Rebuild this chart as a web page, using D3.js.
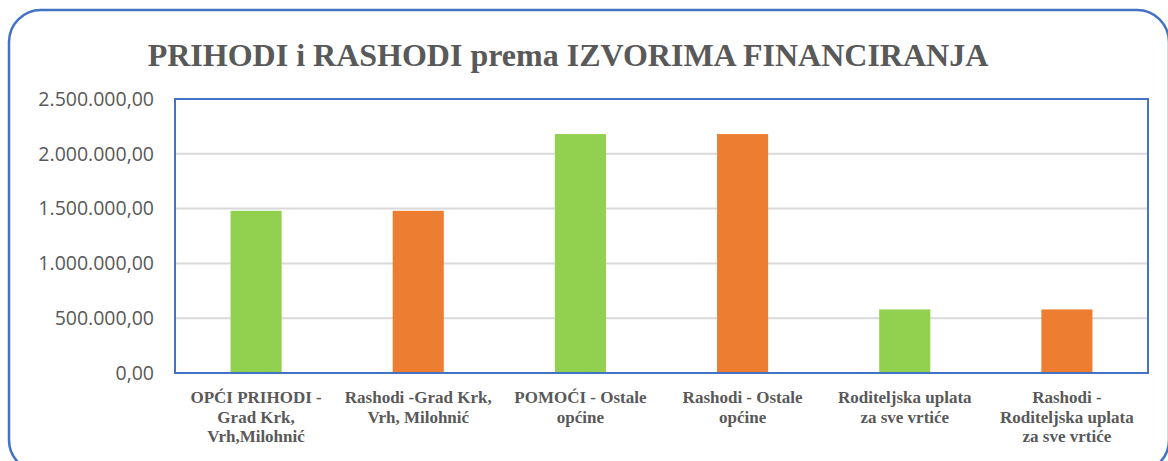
<!DOCTYPE html>
<html>
<head>
<meta charset="utf-8">
<script src="https://cdn.jsdelivr.net/npm/d3@7"></script>
<style>
  body { margin: 0; background: #fff; }
  svg { display: block; }
</style>
</head>
<body>
<div id="chart-area"></div>
<script>
let categories = [
    ["OPĆI PRIHODI -", "Grad Krk,", "Vrh,Milohnić"],
    ["Rashodi -Grad Krk,", "Vrh, Milohnić"],
    ["POMOĆI - Ostale", "općine"],
    ["Rashodi - Ostale", "općine"],
    ["Roditeljska uplata", "za sve vrtiće"],
    ["Rashodi -", "Roditeljska uplata", "za sve vrtiće"]
]
let values = [1480000, 1480000, 2180000, 2180000, 580000, 580000]
let kinds = ["prihod", "rashod", "prihod", "rashod", "prihod", "rashod"]
let ticks = [0, 500000, 1000000, 1500000, 2000000, 2500000]
let tickLabels = ["0,00", "500.000,00", "1.000.000,00", "1.500.000,00", "2.000.000,00", "2.500.000,00"]

let width = 1168
let height = 461

let svg = d3.select("#chart-area")
            .append('svg')
            .attr('width', width)
            .attr('height', height)

// outer rounded frame
svg.append('rect')
    .attr('x', 9)
    .attr('y', 10)
    .attr('width', 1160)
    .attr('height', 462)
    .attr('rx', 32)
    .attr('fill', 'white')
    .attr('stroke', '#4472C4')
    .attr('stroke-width', 2.5)

svg.append('text')
    .attr('x', 568)
    .attr('y', 66)
    .attr('text-anchor', 'middle')
    .attr('font-family', '"Liberation Serif", "Times New Roman", serif')
    .attr('font-weight', 'bold')
    .attr('font-size', 32)
    .attr('fill', '#595959')
    .text('PRIHODI i RASHODI prema IZVORIMA FINANCIRANJA')

let plot = { left: 175, right: 1148, top: 99, bottom: 373 }

let idx = categories.map((d, i) => i)

let xScale = d3.scaleBand()
                .domain(idx)
                .range([plot.left, plot.right])
                .paddingInner(0.685)
                .paddingOuter(0.3425)

let yScale = d3.scaleLinear()
                .domain([0, 2500000])
                .range([plot.bottom, plot.top])

let colors = d3.scaleOrdinal()
                .domain(["prihod", "rashod"])
                .range(["#92D050", "#ED7D31"])

// gridlines
svg.append('g')
    .selectAll('line')
    .data(ticks.filter(t => t > 0 && t < 2500000))
    .enter()
    .append('line')
    .attr('x1', plot.left)
    .attr('x2', plot.right)
    .attr('y1', d => yScale(d))
    .attr('y2', d => yScale(d))
    .attr('stroke', '#D9D9D9')
    .attr('stroke-width', 2)

// bars
svg.append('g')
    .selectAll('rect')
    .data(values)
    .enter()
    .append('rect')
    .attr('x', (d, i) => xScale(i))
    .attr('y', d => yScale(d))
    .attr('width', xScale.bandwidth())
    .attr('height', d => yScale(0) - yScale(d))
    .attr('fill', (d, i) => colors(kinds[i]))

// plot border
svg.append('rect')
    .attr('x', plot.left)
    .attr('y', plot.top)
    .attr('width', plot.right - plot.left)
    .attr('height', plot.bottom - plot.top)
    .attr('fill', 'none')
    .attr('stroke', '#4472C4')
    .attr('stroke-width', 2)

// y axis labels
let yAxis = d3.axisLeft(yScale)
    .tickValues(ticks)
    .tickFormat((d, i) => tickLabels[i])
    .tickSize(0)
    .tickPadding(21)

let yg = svg.append('g')
    .attr('transform', `translate(${plot.left},0)`)
    .call(yAxis)
yg.attr('font-family', null)
yg.select('.domain').remove()
yg.selectAll('text')
    .attr('font-family', '"Open Sans", "Liberation Sans", sans-serif')
    .attr('font-size', 19.5)
    .attr('fill', '#595959')

// x axis labels
let xAxis = d3.axisBottom(xScale)
    .tickSize(0)
    .tickFormat('')

let xg = svg.append('g')
    .attr('transform', `translate(0,${plot.bottom})`)
    .call(xAxis)
xg.attr('font-family', null)
xg.select('.domain').remove()
xg.selectAll('.tick text').remove()
xg.selectAll('.tick')
    .append('text')
    .attr('text-anchor', 'middle')
    .style('font-family', '"Liberation Serif", "Times New Roman", serif')
    .attr('font-weight', 'bold')
    .attr('font-size', 17)
    .attr('fill', '#595959')
    .selectAll('tspan')
    .data(d => categories[d])
    .enter()
    .append('tspan')
    .attr('x', 0)
    .attr('y', (d, i) => 30 + i * 19.5)
    .text(d => d)
</script>
</body>
</html>
